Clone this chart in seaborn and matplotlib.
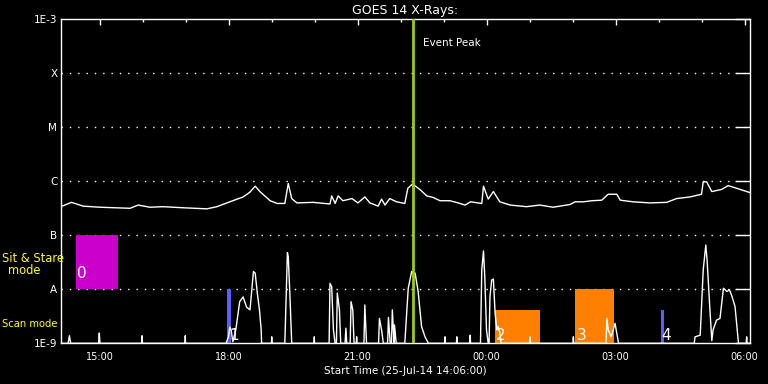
import matplotlib
matplotlib.use("Agg")
import matplotlib.pyplot as plt
import numpy as np
import pandas as pd
import seaborn as sns
from matplotlib.ticker import FixedLocator, NullLocator

# ---------------- data ----------------
# GOES 14 X-ray flux (hours since 25-Jul-14 00:00, log10 W/m^2)
goes_hours = [14.10, 14.35, 14.62, 15.01, 15.71, 15.90, 16.17, 16.48, 16.94, 17.50,
              17.73, 18.03, 18.34, 18.50, 18.62, 18.73, 18.97, 19.13, 19.31, 19.39,
              19.47, 19.59, 19.97, 20.36, 20.40, 20.48, 20.55, 20.66, 20.87, 21.01,
              21.17, 21.29, 21.48, 21.56, 21.64, 21.75, 21.91, 22.10, 22.17, 22.28,
              22.45, 22.61, 22.76, 22.92, 23.15, 23.34, 23.50, 23.63, 23.89, 23.93,
              24.04, 24.16, 24.31, 24.55, 24.93, 25.24, 25.55, 25.94, 26.06, 26.25,
              26.45, 26.68, 26.83, 27.03, 27.11, 27.41, 27.80, 28.19, 28.42, 28.73,
              29.00, 29.04, 29.12, 29.24, 29.47, 29.62, 29.82, 30.13]
goes_log_flux = [-6.47, -6.39, -6.46, -6.48, -6.50, -6.44, -6.48, -6.47, -6.49, -6.51,
                 -6.47, -6.38, -6.29, -6.20, -6.09, -6.19, -6.36, -6.41, -6.41, -6.04,
                 -6.32, -6.40, -6.39, -6.42, -6.27, -6.41, -6.27, -6.36, -6.32, -6.40,
                 -6.29, -6.40, -6.46, -6.33, -6.44, -6.32, -6.38, -6.41, -6.13, -6.05,
                 -6.15, -6.27, -6.30, -6.36, -6.36, -6.40, -6.44, -6.38, -6.41, -6.09,
                 -6.33, -6.19, -6.38, -6.44, -6.47, -6.44, -6.48, -6.43, -6.38, -6.38,
                 -6.36, -6.35, -6.24, -6.24, -6.35, -6.38, -6.40, -6.39, -6.32, -6.29,
                 -6.24, -6.01, -6.01, -6.19, -6.15, -6.08, -6.13, -6.21]

# Scan-mode trace (same axes)
scan_hours = [14.10, 14.27, 14.30, 14.33, 14.98, 14.995, 15.01, 15.98, 15.99, 16.00,
              16.99, 16.995, 17.00, 17.94, 18.00, 18.03, 18.06, 18.10, 18.17, 18.26,
              18.34, 18.42, 18.50, 18.58, 18.62, 18.67, 18.72, 18.76, 18.77, 19.00,
              19.005, 19.01, 19.31, 19.37, 19.39, 19.43, 19.47, 19.99, 19.995, 20.00,
              20.34, 20.36, 20.40, 20.44, 20.48, 20.51, 20.53, 20.58, 20.61, 20.71,
              20.73, 20.75, 20.83, 20.85, 20.89, 20.92, 20.97, 20.98, 20.99, 21.15,
              21.17, 21.21, 21.49, 21.51, 21.56, 21.60, 21.70, 21.72, 21.76, 21.79,
              21.81, 21.85, 21.86, 21.90, 22.10, 22.18, 22.26, 22.34, 22.41, 22.49,
              22.57, 22.65, 23.03, 23.035, 23.04, 23.30, 23.31, 23.32, 23.61, 23.62,
              23.63, 23.86, 23.89, 23.93, 23.96, 24.00, 24.04, 24.06, 24.08, 24.12,
              24.16, 24.20, 24.24, 24.27, 24.31, 24.34, 25.00, 25.01, 25.02, 26.01,
              26.02, 26.03, 26.78, 26.80, 26.83, 26.90, 26.99, 27.03, 27.07, 28.83,
              28.85, 28.97, 29.04, 29.10, 29.13, 29.20, 29.24, 29.27, 29.35, 29.43,
              29.51, 29.59, 29.65, 29.70, 29.78, 29.86, 30.04, 30.05, 30.06, 30.13]
scan_log_flux = [-9.0, -9.0, -8.86, -9.0, -9.0, -8.81, -9.0, -9.0, -8.86, -9.0,
                 -9.0, -8.86, -9.0, -9.0, -8.88, -8.70, -8.75, -8.97, -8.75, -8.23,
                 -8.14, -8.33, -8.38, -7.67, -7.70, -8.07, -8.38, -8.75, -9.0, -9.0,
                 -8.88, -9.0, -9.0, -7.32, -7.40, -8.14, -9.0, -9.0, -8.88, -9.0,
                 -9.0, -7.89, -7.95, -8.75, -9.0, -9.0, -8.07, -8.38, -9.0, -9.0,
                 -8.72, -9.0, -9.0, -8.23, -8.38, -9.0, -9.0, -8.88, -9.0, -9.0,
                 -8.29, -9.0, -9.0, -8.54, -8.75, -9.0, -9.0, -8.52, -9.0, -9.0,
                 -8.38, -9.0, -8.66, -9.0, -9.0, -7.98, -7.67, -7.70, -8.04, -8.69,
                 -8.88, -9.0, -9.0, -8.88, -9.0, -9.0, -8.88, -9.0, -9.0, -8.85,
                 -9.0, -9.0, -7.64, -7.29, -7.77, -8.75, -9.0, -9.0, -8.14, -7.83,
                 -7.81, -8.44, -8.75, -8.69, -8.81, -9.0, -9.0, -8.88, -9.0, -9.0,
                 -8.88, -9.0, -9.0, -8.54, -8.75, -8.88, -8.63, -8.81, -9.0, -9.0,
                 -8.88, -8.85, -7.64, -7.18, -7.46, -8.44, -8.95, -8.75, -8.57, -8.54,
                 -7.98, -8.04, -8.01, -8.11, -8.32, -9.0, -9.0, -8.88, -9.0, -9.0]

event_peak_hour = 22.29

box_labels = ["0", "1", "2", "3", "4"]
box_start = [14.45, 17.965, 24.20, 26.06, 28.06]
box_end = [15.43, 18.05, 25.245, 26.97, 28.13]
box_low = [-8.0, -9.0, -9.0, -9.0, -9.0]
box_high = [-7.0, -8.0, -8.38, -8.0, -8.38]
box_colors = ["#cc00cc", "#5c5cff", "#ff8000", "#ff8000", "#5c5cff"]
label_hours = [14.48, 18.01, 24.22, 26.10, 28.07]
label_log = [-7.79, -8.94, -8.94, -8.94, -8.94]

ytick_levels = [-9, -8, -7, -6, -5, -4, -3]
ytick_labels = ["1E-9", "A", "B", "C", "M", "X", "1E-3"]
grid_levels = [-8, -7, -6, -5, -4]
xtick_hours = [15, 18, 21, 24, 27, 30]
xtick_labels = ["15:00", "18:00", "21:00", "00:00", "03:00", "06:00"]
xminor_hours = list(range(15, 31))

# ---------------- figure ----------------
sns.set_theme(style="dark")
plt.rcParams["font.family"] = ["DejaVu Sans"]

W, H = 768, 384
fig = plt.figure(figsize=(W / 100, H / 100), dpi=100, facecolor="black")
ax = fig.add_axes([60.8 / W, (H - 343.3) / H, (750 - 60.8) / W, (343.3 - 19.3) / H])
ax.set_facecolor("black")
ax.set_yscale("log")

goes_df = pd.DataFrame({"hour": goes_hours, "flux": 10 ** np.array(goes_log_flux)})
scan_df = pd.DataFrame({"hour": scan_hours, "flux": 10 ** np.array(scan_log_flux)})

# dotted grid lines
for lv in grid_levels:
    ax.axhline(10.0 ** lv, color="white", lw=1.0, ls=(0, (1, 5)), zorder=1)

# boxes
for s, e, lo, hi, c in zip(box_start, box_end, box_low, box_high, box_colors):
    ax.fill_between([s, e], 10.0 ** lo, 10.0 ** hi, color=c, lw=0, zorder=2)

sns.lineplot(data=goes_df, x="hour", y="flux", ax=ax, color="white", lw=1.0,
             estimator=None, sort=False, legend=False, zorder=3)
sns.lineplot(data=scan_df, x="hour", y="flux", ax=ax, color="white", lw=1.0,
             estimator=None, sort=False, legend=False, zorder=3)

ax.axvline(event_peak_hour, color="#a0cc10", lw=2.0, zorder=4)
ax.text(event_peak_hour + 0.23, 10 ** -3.44, "Event Peak", color="white",
        fontsize=7.5, ha="left", va="center", zorder=5)

for t, lv, lab in zip(label_hours, label_log, box_labels):
    ax.text(t, 10.0 ** lv, lab, color="white", fontsize=11, ha="left",
            va="baseline", zorder=5)

ax.set_xlim(14.1, 14.1 + (750 - 60.8) / 43)
ax.set_ylim(1e-9, 1e-3)

ax.xaxis.set_major_locator(FixedLocator(xtick_hours))
ax.set_xticklabels(xtick_labels)
ax.xaxis.set_minor_locator(FixedLocator(xminor_hours))
ax.yaxis.set_major_locator(FixedLocator([10.0 ** v for v in ytick_levels]))
ax.set_yticklabels(ytick_labels)
ax.yaxis.set_minor_locator(NullLocator())

ax.tick_params(axis="both", which="both", direction="in", top=True, right=True,
               colors="white", width=1.0)
ax.tick_params(axis="x", which="major", length=4.3, labelsize=7, pad=6)
ax.tick_params(axis="x", which="minor", length=2.2)
ax.tick_params(axis="y", which="major", length=10.5, labelsize=7.5, pad=2.5)
for lab in ax.get_xticklabels() + ax.get_yticklabels():
    lab.set_color("white")

for sp in ax.spines.values():
    sp.set_color("white")
    sp.set_linewidth(1.0)
    sp.set_visible(True)

ax.set_xlabel("Start Time (25-Jul-14 14:06:00)", color="white", fontsize=7.5, labelpad=3)
ax.set_ylabel("")
ax.set_title("GOES 14 X-Rays:", color="white", fontsize=9, pad=4)
ax.grid(False)

fig.text(2 / W, 1 - 259 / H, "Sit & Stare", color="yellow", fontsize=8.3,
         ha="left", va="center")
fig.text(24 / W, 1 - 271 / H, "mode", color="yellow", fontsize=8.3,
         ha="center", va="center")
fig.text(2 / W, 1 - 324 / H, "Scan mode", color="yellow", fontsize=7.2,
         ha="left", va="center")

fig.savefig("out.png", dpi=100, facecolor="black")
